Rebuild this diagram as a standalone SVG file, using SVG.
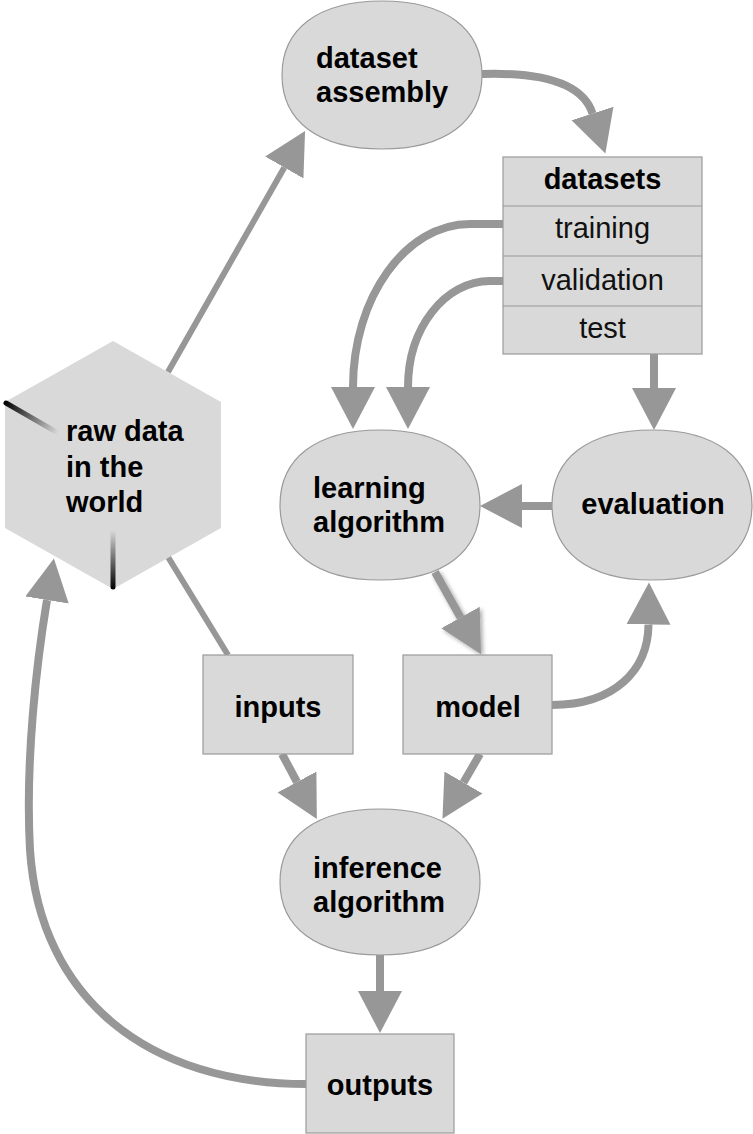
<svg xmlns="http://www.w3.org/2000/svg" width="753" height="1134" viewBox="0 0 753 1134">
<style>
.node{fill:#d9d9d9;stroke:#9a9a9a;stroke-width:1.2}
.hex{fill:#d9d9d9}
.c{fill:none;stroke:#979797;stroke-width:8}
.thin{stroke-width:6}
.b{font-family:"Liberation Sans",Arial,Helvetica,sans-serif;font-weight:bold;font-size:29px;fill:#000}
.r{font-family:"Liberation Sans",Arial,Helvetica,sans-serif;font-size:29px;fill:#111}
.m{text-anchor:middle}
</style>
<defs>
<marker id="ah" markerUnits="userSpaceOnUse" markerWidth="46" markerHeight="48" viewBox="0 -24 46 48" refX="0" refY="0" orient="auto">
<path d="M0,-22 L42,0 L0,22 Z" fill="#979797"/>
</marker>
<filter id="sh" filterUnits="userSpaceOnUse" x="400" y="540" width="120" height="140">
<feDropShadow dx="2" dy="2" stdDeviation="2" flood-color="#000" flood-opacity="0.35"/>
</filter>
<linearGradient id="g1" gradientUnits="userSpaceOnUse" x1="5" y1="402" x2="58" y2="433">
<stop offset="0" stop-color="#000"/><stop offset="1" stop-color="#d9d9d9"/>
</linearGradient>
<linearGradient id="g2" gradientUnits="userSpaceOnUse" x1="113" y1="589" x2="113" y2="530">
<stop offset="0" stop-color="#000"/><stop offset="1" stop-color="#d9d9d9"/>
</linearGradient>
</defs>
<g id="connectors">
<path class="c thin" d="M168,372 L284.3,167.5" marker-end="url(#ah)"/>
<path class="c" d="M482,74 C545,72 583,84 592.5,113.5" marker-end="url(#ah)"/>
<path class="c" d="M503,224 L470,224 C406,224 353,297 353,387" marker-end="url(#ah)"/>
<path class="c" d="M503,281 L490,281 C445,281 408,328 408,387" marker-end="url(#ah)"/>
<path class="c" d="M654,354 L654,388" marker-end="url(#ah)"/>
<path class="c" d="M553,506 L522,506" marker-end="url(#ah)"/>
<g filter="url(#sh)"><path class="c" d="M435,572 L460.5,617.5" marker-end="url(#ah)"/></g>
<path class="c" d="M552,705 C615,705 648,670 648.5,624.5" marker-end="url(#ah)"/>
<path class="c thin" d="M168,557 L228,655"/>
<path class="c" d="M282,754 L297,782" marker-end="url(#ah)"/>
<path class="c" d="M480,754 L463.5,782.5" marker-end="url(#ah)"/>
<path class="c" d="M380,955 L380,991" marker-end="url(#ah)"/>
<path class="c" d="M306,1084 C150,1084 40,1000 30,850 C25,760 37,660 47,600" marker-end="url(#ah)"/>
</g>
<g id="raw-data">
<polygon class="hex" points="113,341 221,402 221,528 113,589 5,528 5,402"/>
<line x1="6" y1="403" x2="58" y2="433" stroke="url(#g1)" stroke-width="5" stroke-linecap="round"/>
<line x1="113" y1="587" x2="113" y2="530" stroke="url(#g2)" stroke-width="5" stroke-linecap="round"/>
<text class="b" x="66" y="441">raw data</text>
<text class="b" x="66" y="477">in the</text>
<text class="b" x="66" y="512">world</text>
</g>
<g id="dataset-assembly">
<path class="node" d="M282,75 C282,29 318,1 382,1 C446,1 482,29 482,75 C482,121 446,149 382,149 C318,149 282,121 282,75Z"/>
<text class="b" x="316" y="68">dataset</text>
<text class="b" x="316" y="102">assembly</text>
</g>
<g id="datasets">
<rect class="node" x="503" y="157" width="199" height="197"/>
<line x1="503" y1="206" x2="702" y2="206" stroke="#9a9a9a" stroke-width="1.2"/>
<line x1="503" y1="256" x2="702" y2="256" stroke="#9a9a9a" stroke-width="1.2"/>
<line x1="503" y1="306" x2="702" y2="306" stroke="#9a9a9a" stroke-width="1.2"/>
<text class="b m" x="602.5" y="189">datasets</text>
<text class="r m" x="602.5" y="238">training</text>
<text class="r m" x="602.5" y="290">validation</text>
<text class="r m" x="602.5" y="338">test</text>
</g>
<g id="learning-algorithm">
<path class="node" d="M280,505 C280,458.5 316,430 380,430 C444,430 480,458.5 480,505 C480,551.5 444,580 380,580 C316,580 280,551.5 280,505Z"/>
<text class="b" x="313" y="498">learning</text>
<text class="b" x="313" y="532">algorithm</text>
</g>
<g id="evaluation">
<path class="node" d="M552,505 C552,458.5 588,430 652,430 C716,430 752,458.5 752,505 C752,551.5 716,580 652,580 C588,580 552,551.5 552,505Z"/>
<text class="b m" x="653" y="514">evaluation</text>
</g>
<g id="inputs">
<rect class="node" x="203" y="655" width="150" height="99"/>
<text class="b m" x="278" y="717">inputs</text>
</g>
<g id="model">
<rect class="node" x="403" y="655" width="149" height="99"/>
<text class="b m" x="478" y="717">model</text>
</g>
<g id="inference-algorithm">
<path class="node" d="M280,882 C280,836.7 316,809 380,809 C444,809 480,836.7 480,882 C480,927.3 444,955 380,955 C316,955 280,927.3 280,882Z"/>
<text class="b" x="313" y="878">inference</text>
<text class="b" x="313" y="912">algorithm</text>
</g>
<g id="outputs">
<rect class="node" x="306" y="1034" width="148" height="99"/>
<text class="b m" x="380" y="1095">outputs</text>
</g>
</svg>
